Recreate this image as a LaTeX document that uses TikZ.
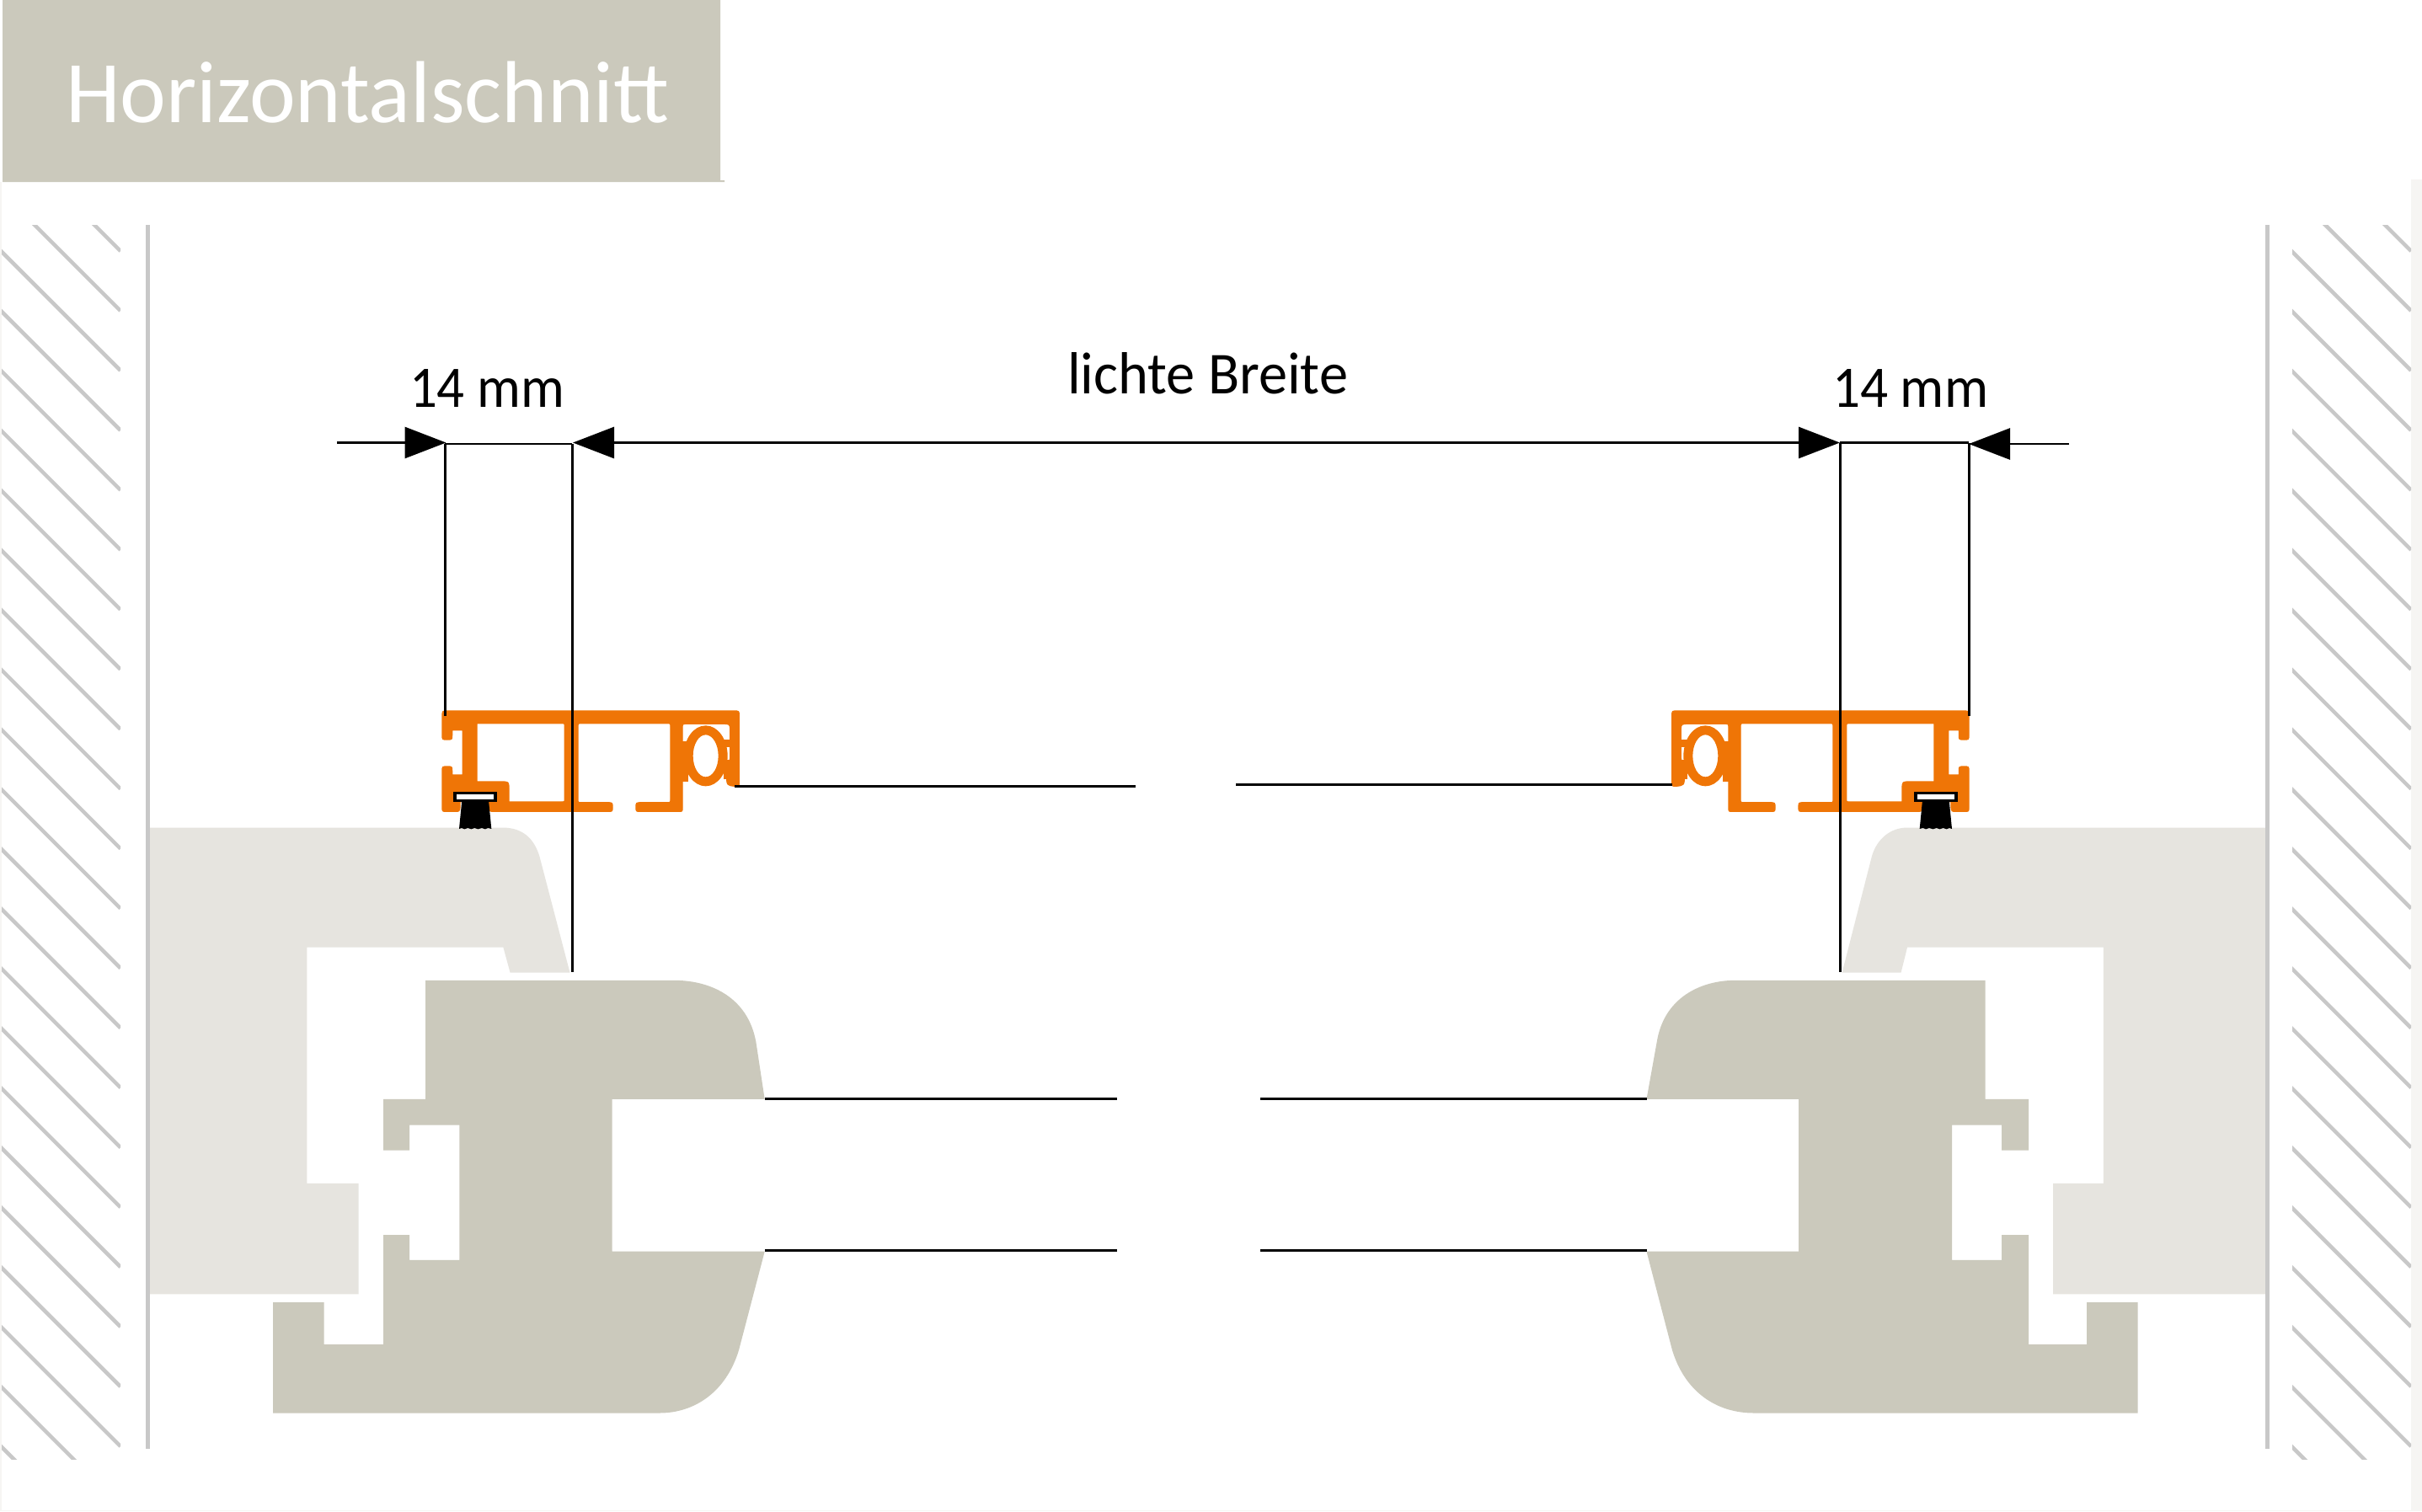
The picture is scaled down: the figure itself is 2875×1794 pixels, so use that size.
\documentclass[tikz,border=0pt]{standalone}
\usepackage{fontspec}
\setmainfont{Carlito}
\usetikzlibrary{arrows.meta}
\definecolor{paleband}{HTML}{F6F5F3}
\definecolor{darkwood}{HTML}{CBC9BC}
\definecolor{lightwood}{HTML}{E6E4DF}
\definecolor{wallgrey}{HTML}{C8C8C8}
\definecolor{alu}{HTML}{EF7506}
\tikzset{
  darkpart/.style={fill=darkwood,draw=none},
  lightpart/.style={fill=lightwood,draw=none},
  wallline/.style={draw=wallgrey,line width=5pt},
  hatchline/.style={draw=wallgrey,line width=4.5pt},
  dimline/.style={draw=black,line width=2.8pt},
  glassline/.style={draw=black,line width=3pt},
  dimarrow/.style={dimline,-{Triangle[length=49pt,width=37pt]}},
  dimarrowboth/.style={dimline,{Triangle[length=49pt,width=37pt]}-{Triangle[length=49pt,width=37pt]}},
  lab/.style={inner sep=0pt,outer sep=0pt,anchor=base west},
}
\newcommand{\myprofile}{%
  \fill[alu,even odd rule,draw=alu,line width=1.2pt]
    (135,150) .. controls (135,132) .. (155,132) -- (1175,132)
    .. controls (1192,132) .. (1192,150) -- (1192,385)
    .. controls (1192,400) .. (1177,400) .. controls (1148,397) .. (1148,360)
    -- (1160,300) -- (1160,200) .. controls (1160,178) .. (1130,178) -- (1005,178)
    .. controls (990,178) .. (990,195) -- (990,478) .. controls (990,490) .. (976,490)
    -- (840,490) .. controls (825,490) .. (825,475) .. controls (825,459) .. (842,458)
    -- (935,458) .. controls (948,458) .. (948,445) -- (948,190)
    .. controls (948,176) .. (935,176) -- (632,176) .. controls (618,176) .. (618,190)
    -- (618,446) .. controls (618,458) .. (630,458) -- (725,458)
    .. controls (741,459) .. (741,475) .. controls (741,490) .. (725,490)
    -- (320,490) .. controls (302,490) .. (302,470) -- (302,455) -- (198,455) -- (198,476)
    .. controls (196,490) .. (180,490) -- (150,490) .. controls (135,490) .. (135,475)
    -- (135,346) .. controls (135,330) .. (152,330) .. controls (170,330) .. (170,346)
    -- (170,360) -- (208,360) -- (208,200) -- (170,200) -- (170,218)
    .. controls (170,234) .. (152,234) .. controls (135,234) .. (135,218) -- cycle
    (258,176) -- (558,176) .. controls (571,176) .. (571,190) -- (571,444)
    .. controls (571,456) .. (558,456) -- (372,456) -- (372,410)
    .. controls (372,384) .. (345,384) -- (258,384) -- cycle;
  \fill[alu,even odd rule] (1073,292) ellipse [x radius=78,y radius=108]
    (1073,292) ellipse [x radius=45,y radius=75];
  % webs joining the ring to the walls
  \fill[alu] (985,240) rectangle (1012,385);
  \fill[alu] (1136,305) rectangle (1170,375);
  \fill[alu] (1136,235) rectangle (1170,262);
  \fill[black] (205,450) -- (300,450) -- (310,552) -- (298,549) -- (288,553) -- (276,549)
    -- (262,553) -- (250,549) -- (238,553) -- (226,549) -- (214,553) -- (204,549) -- (195,552) -- cycle;
  \fill[black] (175,421) rectangle (331,455);
  \fill[white] (187,430) rectangle (319,447);
}
\begin{document}
\begin{tikzpicture}[x=1pt,y=-1pt]
\useasboundingbox (0,0) rectangle (2875,1794);
\fill[white] (0,0) rectangle (2875,1794);
% pale page bands
\fill[paleband] (2862,213) rectangle (2875,1794);
\fill[paleband] (0,216) rectangle (2,1794);
\fill[paleband] (0,1793) rectangle (2875,1794);
% title block
\fill[darkwood] (3,0) -- (855,0) -- (855,214) -- (860,214) -- (860,216) -- (3,216) -- cycle;
\node[lab,text=white] (title) at (78,145) {\resizebox{716pt}{72.5pt}{Horizontalschnitt}};
% wall hatching
\begin{scope}
  \clip (2,267) rectangle (143,1732);
  \foreach \k in {0,...,22}
    \draw[hatchline] (143,{298+70.95*\k}) -- ++(-210,-210);
\end{scope}
\begin{scope}
  \clip (2721,267) rectangle (2862,1732);
  \foreach \k in {0,...,22}
    \draw[hatchline] (2862,{298+70.95*\k}) -- ++(-210,-210);
\end{scope}
% frame left
\fill[lightpart] (178,982.5) -- (596.4,982.5) .. controls (620,982.5) and (634,995) .. (640.5,1017)
  -- (676.5,1154.7) -- (605.6,1154.7) -- (597.4,1124.6) -- (364.3,1124.6) -- (364.3,1404.9)
  -- (425.5,1404.9) -- (425.5,1536.4) -- (178,1536.4) -- cycle;
% frame right
\fill[lightpart] (2689,982.5) -- (2264,982.5) .. controls (2245,982.5) and (2228,995) .. (2221.8,1017)
  -- (2186.6,1154.7) -- (2256.5,1154.7) -- (2264,1124.6) -- (2496.8,1124.6) -- (2496.8,1404.9)
  -- (2437,1404.9) -- (2437,1536.4) -- (2689,1536.4) -- cycle;
% sash left
\fill[darkpart] (505,1163.8) -- (800,1163.8) .. controls (845,1163.8) and (888,1185) .. (897.4,1237)
  -- (907.7,1304.9) -- (726.5,1304.9) -- (726.5,1485.7) -- (907.7,1485.7) -- (877,1602.9)
  .. controls (862,1652) and (825,1677.5) .. (782.7,1677.5) -- (324,1677.5) -- (324,1546)
  -- (384.7,1546) -- (384.7,1596.2) -- (455,1596.2) -- (455,1466.1) -- (486.2,1466.1)
  -- (486.2,1495.8) -- (545.4,1495.8) -- (545.4,1335.5) -- (486.2,1335.5) -- (486.2,1365.6)
  -- (455,1365.6) -- (455,1304.9) -- (505,1304.9) -- cycle;
% sash right
\fill[darkpart] (2356.5,1163.8) -- (2060,1163.8) .. controls (2018,1163.8) and (1975,1185) .. (1966.7,1237)
  -- (1954.5,1304.9) -- (2135,1304.9) -- (2135,1485.7) -- (1954.5,1485.7) -- (1985,1602.9)
  .. controls (2000,1652) and (2037,1677.5) .. (2082,1677.5) -- (2537.7,1677.5) -- (2537.7,1546)
  -- (2477,1546) -- (2477,1596.2) -- (2408,1596.2) -- (2408,1466.1) -- (2376,1466.1)
  -- (2376,1495.8) -- (2317,1495.8) -- (2317,1335.5) -- (2376,1335.5) -- (2376,1365.6)
  -- (2408,1365.6) -- (2408,1304.9) -- (2356.5,1304.9) -- cycle;
% wall lines
\coordinate (wla) at (175.5,267); \coordinate (wlb) at (175.5,1720);
\coordinate (wra) at (2691.5,267); \coordinate (wrb) at (2691.5,1720);
\draw[wallline] (wla) -- (wlb);
\draw[wallline] (wra) -- (wrb);
% profiles
\begin{scope}[shift={(480,800)},x=0.33333pt,y=-0.33333pt]\myprofile\end{scope}
\begin{scope}[shift={(2382,800)},x=-0.33333pt,y=-0.33333pt]\myprofile\end{scope}
% glass lines
\coordinate (ga1) at (872,933.3); \coordinate (ga2) at (1348,933.3);
\coordinate (gb1) at (1467,931); \coordinate (gb2) at (1985,931);
\coordinate (gc1) at (908,1304.5); \coordinate (gc2) at (1326,1304.5);
\coordinate (gd1) at (1496,1304.5); \coordinate (gd2) at (1955,1304.5);
\coordinate (ge1) at (908,1484.5); \coordinate (ge2) at (1326,1484.5);
\coordinate (gf1) at (1496,1484.5); \coordinate (gf2) at (1955,1484.5);
\foreach \a/\b in {ga1/ga2,gb1/gb2,gc1/gc2,gd1/gd2,ge1/ge2,gf1/gf2}
  \draw[glassline] (\a) -- (\b);
% dimension lines
\coordinate (v1t) at (528.3,527); \coordinate (v1b) at (528.3,850);
\coordinate (v2t) at (679.3,527); \coordinate (v2b) at (679.3,1154);
\coordinate (v3t) at (2184.3,525.5); \coordinate (v3b) at (2184.3,1154);
\coordinate (v4t) at (2337.3,525.5); \coordinate (v4b) at (2337.3,850);
\draw[dimline] (v1t) -- (v1b);
\draw[dimline] (v2t) -- (v2b);
\draw[dimline] (v3t) -- (v3b);
\draw[dimline] (v4t) -- (v4b);
\draw[dimline] (v1t) -- (v2t);
\draw[dimline] (v3t) -- (v4t);
\coordinate (fl) at (400,525.5); \coordinate (tl) at (529.5,525.5);
\coordinate (tm1) at (680,525.5); \coordinate (tm2) at (2184,525.5);
\coordinate (fr) at (2456,527); \coordinate (tr) at (2337,527);
\draw[dimarrow] (fl) -- (tl);
\draw[dimarrowboth] (tm1) -- (tm2);
\draw[dimarrow] (fr) -- (tr);
% labels
\node[lab] (dl) at (486,483) {\resizebox{184pt}{45pt}{14 mm}};
\node[lab] (dm) at (1267,467) {\resizebox{333pt}{49pt}{lichte Breite}};
\node[lab] (dr) at (2175,483) {\resizebox{185pt}{45pt}{14 mm}};
\end{tikzpicture}
\end{document}
